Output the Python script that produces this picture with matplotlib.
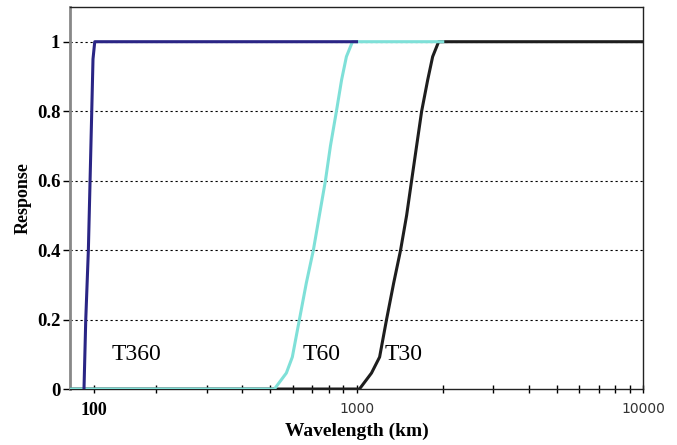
"""
Response of the spectral truncations T360, T60 and T30 against wavelength
"""

from matplotlib import pyplot as plt

# wavelength (km) and response
t360_x = [111.9, 113.5, 115.9, 117.5, 119.1, 120.3, 122.0, 1000]
t360_y = [0.0, 0.2, 0.4, 0.6, 0.8, 0.95, 1.0, 1.0]

t60_x = [100, 517, 569, 597, 632, 668, 707, 742, 779, 811, 851, 887, 922, 968, 2000]
t60_y = [0.0, 0.0, 0.046, 0.092, 0.2, 0.305, 0.4, 0.5, 0.6, 0.7, 0.8, 0.89, 0.957, 1.0, 1.0]

t30_x = [100, 1024, 1128, 1204, 1273, 1348, 1425, 1496, 1557, 1621, 1688, 1772, 1844, 1935, 10000]
t30_y = [0.0, 0.0, 0.046, 0.092, 0.2, 0.305, 0.4, 0.5, 0.6, 0.7, 0.8, 0.89, 0.957, 1.0, 1.0]

y_ticks = [0, 0.2, 0.4, 0.6, 0.8, 1.0]
y_tick_labels = ['0', '0.2', '0.4', '0.6', '0.8', '1']
x_ticks = [121, 1000, 10000]
x_tick_labels = ['100', '1000', '10000']
x_minor = [200, 300, 400, 500, 600, 700, 800, 900,
           2000, 3000, 4000, 5000, 6000, 7000, 8000, 9000]

serif = 'Liberation Serif'

fig = plt.figure(figsize=(6.77, 4.45), dpi=100)
ax = fig.add_axes([0.1034, 0.1258, 0.8464, 0.8585])

ax.plot(t30_x, t30_y, color='#1e1e1e', lw=2.2, zorder=3, solid_joinstyle='round')
ax.plot(t60_x, t60_y, color='#7fe0d8', lw=2.2, zorder=4, solid_joinstyle='round')
ax.plot(t360_x, t360_y, color='#2a2585', lw=2.2, zorder=5, solid_joinstyle='round')

ax.set_xscale('log')
ax.set_xlim(100, 10000)
ax.set_ylim(0, 1.1)

ax.set_yticks(y_ticks)
ax.set_yticklabels(y_tick_labels, fontfamily=serif, fontweight='bold', fontsize=13.5)
ax.set_xticks(x_ticks)
ax.set_xticklabels(x_tick_labels)
ax.set_xticks(x_minor, minor=True)
ax.tick_params(axis='x', which='minor', labelbottom=False)
ax.tick_params(axis='x', which='both', direction='inout', length=6, width=1, pad=6)
ax.tick_params(axis='y', direction='out', length=5, width=1, pad=2)
xl = ax.get_xticklabels()
xl[0].set_fontfamily(serif)
xl[0].set_fontweight('bold')
xl[0].set_fontsize(13)
for t in xl[1:]:
    t.set_fontfamily('DejaVu Sans')
    t.set_fontsize(10)
    t.set_color('#333333')

for y in y_ticks[1:]:
    ax.axhline(y, color='black', lw=0.8, ls=(0, (2, 2.5)), zorder=1)

ax.spines['left'].set_color('#888888')
ax.spines['left'].set_linewidth(2)
for s in ['top', 'right', 'bottom']:
    ax.spines[s].set_color('#222222')
    ax.spines[s].set_linewidth(1)

ax.set_ylabel('Response', fontfamily=serif, fontweight='bold', fontsize=13, labelpad=4)
ax.set_xlabel('Wavelength (km)', fontfamily=serif, fontweight='bold', fontsize=14, labelpad=3)

ax.text(170, 0.1, 'T360', fontfamily=serif, fontsize=17, ha='center', va='center')
ax.text(754, 0.1, 'T60', fontfamily=serif, fontsize=17, ha='center', va='center')
ax.text(1459, 0.1, 'T30', fontfamily=serif, fontsize=17, ha='center', va='center')

fig.savefig('out.png', dpi=100)
